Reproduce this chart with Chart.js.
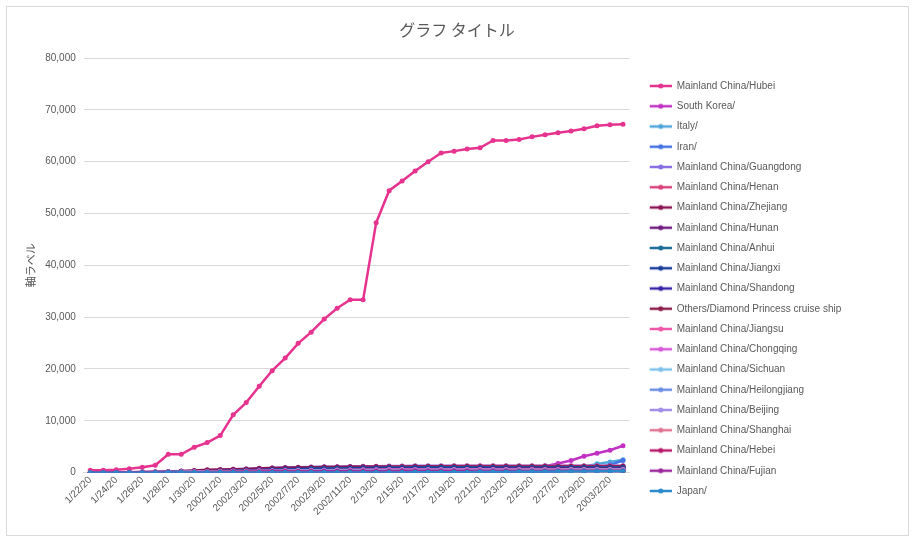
<!DOCTYPE html>
<html lang="ja">
<head>
<meta charset="utf-8">
<title>グラフ タイトル</title>
<script src="https://cdn.jsdelivr.net/npm/chart.js@4.4.1/dist/chart.umd.min.js"></script>
<style>
  html, body { margin: 0; padding: 0; background: #fff; }
  .wrap { position: relative; width: 914px; height: 541px; }
  .chart-title {
    position: absolute; left: 0; top: 18px; width: 914px;
    text-align: center; font: 16px/22px "Noto Sans CJK JP", sans-serif; color: #595959;
  }
  canvas { position: absolute; left: 0; top: 0; }
</style>
</head>
<body>
<div class="wrap">
  <canvas class="js-chart" width="914" height="541"></canvas>
  <div class="chart-title">グラフ タイトル</div>
</div>
<script>
// 日付ラベル（Excelの変換そのまま）
const dates = [
  '1/22/20', '1/23/20', '1/24/20', '1/25/20', '1/26/20', '1/27/20', '1/28/20', '1/29/20', '1/30/20', '1/31/20',
  '2002/1/20', '2002/2/20', '2002/3/20', '2002/4/20', '2002/5/20', '2002/6/20', '2002/7/20', '2002/8/20',
  '2002/9/20', '2002/10/20', '2002/11/20', '2002/12/20',
  '2/13/20', '2/14/20', '2/15/20', '2/16/20', '2/17/20', '2/18/20', '2/19/20', '2/20/20', '2/21/20',
  '2/22/20', '2/23/20', '2/24/20', '2/25/20', '2/26/20', '2/27/20', '2/28/20', '2/29/20',
  '2003/1/20', '2003/2/20', '2003/3/20'
];

const hubei = [444, 444, 549, 761, 1058, 1423, 3554, 3554, 4903, 5806, 7153, 11177, 13522, 16678, 19665, 22112, 24953, 27100, 29631, 31728, 33366, 33366, 48206, 54406, 56249, 58182, 59989, 61682, 62031, 62442, 62662, 64084, 64084, 64287, 64786, 65187, 65596, 65914, 66337, 66907, 67103, 67217];
const southKorea = [1, 1, 2, 2, 3, 4, 4, 4, 4, 11, 12, 15, 15, 16, 19, 23, 24, 24, 25, 27, 28, 28, 28, 28, 28, 29, 30, 31, 31, 104, 204, 433, 602, 833, 977, 1261, 1766, 2337, 3150, 3736, 4335, 5186];
const italy = [0, 0, 0, 0, 0, 0, 0, 0, 0, 2, 2, 2, 2, 2, 2, 2, 3, 3, 3, 3, 3, 3, 3, 3, 3, 3, 3, 3, 3, 3, 20, 62, 155, 229, 322, 453, 655, 888, 1128, 1694, 2036, 2502];
const iran = [0, 0, 0, 0, 0, 0, 0, 0, 0, 0, 0, 0, 0, 0, 0, 0, 0, 0, 0, 0, 0, 0, 0, 0, 0, 0, 0, 0, 2, 5, 18, 28, 43, 61, 95, 139, 245, 388, 593, 978, 1501, 2336];
const guangdong = [26, 32, 53, 78, 111, 151, 207, 277, 354, 436, 535, 632, 725, 813, 895, 970, 1034, 1095, 1131, 1159, 1177, 1219, 1241, 1261, 1294, 1316, 1322, 1328, 1331, 1332, 1333, 1339, 1342, 1345, 1347, 1347, 1347, 1348, 1349, 1349, 1350, 1350];
const henan = [5, 5, 9, 32, 83, 128, 168, 206, 278, 352, 422, 493, 566, 675, 764, 851, 914, 981, 1033, 1073, 1105, 1135, 1169, 1184, 1212, 1231, 1246, 1257, 1262, 1265, 1267, 1270, 1271, 1271, 1271, 1271, 1272, 1272, 1272, 1272, 1272, 1272];
const zhejiang = [10, 27, 43, 62, 104, 128, 173, 296, 428, 538, 599, 661, 724, 829, 895, 954, 1006, 1048, 1075, 1092, 1117, 1131, 1145, 1155, 1162, 1167, 1171, 1172, 1174, 1175, 1203, 1205, 1205, 1205, 1205, 1205, 1205, 1205, 1205, 1205, 1206, 1213];
const hunan = [4, 9, 24, 43, 69, 100, 143, 221, 277, 332, 389, 463, 521, 593, 661, 711, 772, 803, 838, 879, 912, 946, 968, 988, 1001, 1004, 1006, 1007, 1008, 1010, 1011, 1013, 1016, 1016, 1016, 1016, 1017, 1017, 1018, 1018, 1018, 1018];
const anhui = [1, 9, 15, 39, 60, 70, 106, 152, 200, 237, 297, 340, 408, 480, 530, 591, 665, 733, 779, 830, 860, 889, 910, 934, 950, 962, 973, 982, 986, 987, 988, 989, 989, 989, 989, 989, 989, 989, 990, 990, 990, 990];
const jiangxi = [2, 7, 18, 18, 36, 72, 109, 109, 162, 240, 286, 333, 391, 476, 548, 600, 661, 698, 740, 771, 804, 844, 872, 900, 913, 925, 930, 933, 934, 934, 934, 934, 934, 934, 934, 934, 934, 934, 935, 935, 935, 935];
const shandong = [2, 6, 15, 27, 46, 75, 95, 130, 158, 184, 206, 230, 259, 275, 307, 347, 386, 416, 444, 466, 487, 497, 509, 523, 532, 537, 541, 543, 544, 546, 748, 750, 754, 755, 756, 756, 756, 756, 756, 758, 758, 758];
const diamondPrincess = [0, 0, 0, 0, 0, 0, 0, 0, 0, 0, 0, 0, 0, 0, 0, 0, 61, 61, 64, 135, 135, 175, 175, 218, 285, 355, 454, 542, 621, 634, 634, 634, 691, 691, 691, 705, 705, 705, 705, 705, 705, 706];
const jiangsu = [1, 5, 9, 18, 33, 47, 70, 99, 129, 168, 202, 236, 271, 308, 341, 373, 408, 439, 468, 492, 515, 543, 570, 593, 604, 617, 626, 629, 631, 631, 631, 631, 631, 631, 631, 631, 631, 631, 631, 631, 631, 631];
const chongqing = [6, 9, 27, 57, 75, 110, 132, 147, 182, 211, 247, 300, 337, 366, 389, 411, 426, 428, 468, 486, 505, 518, 529, 537, 544, 551, 553, 555, 560, 567, 572, 573, 575, 576, 576, 576, 576, 576, 576, 576, 576, 576];
const sichuan = [5, 8, 15, 28, 44, 69, 90, 108, 142, 177, 207, 231, 254, 282, 301, 321, 344, 364, 386, 405, 417, 436, 451, 463, 470, 481, 495, 508, 514, 520, 525, 526, 526, 527, 529, 531, 534, 538, 538, 538, 538, 538];
const heilongjiang = [0, 2, 4, 9, 15, 21, 33, 38, 44, 59, 80, 95, 121, 155, 190, 227, 277, 295, 307, 331, 360, 378, 395, 419, 425, 445, 457, 464, 470, 476, 479, 479, 480, 480, 480, 480, 480, 480, 480, 480, 480, 480];
const beijing = [14, 22, 36, 41, 68, 80, 91, 111, 114, 139, 168, 191, 212, 228, 253, 274, 297, 315, 326, 337, 342, 352, 366, 372, 375, 380, 381, 387, 393, 395, 396, 399, 399, 399, 400, 400, 410, 410, 411, 413, 414, 414];
const shanghai = [9, 16, 20, 33, 40, 53, 66, 96, 112, 135, 169, 182, 203, 219, 243, 257, 277, 286, 293, 299, 303, 311, 315, 318, 326, 328, 331, 333, 333, 333, 334, 334, 335, 335, 335, 336, 337, 337, 337, 337, 337, 338];
const hebei = [1, 1, 8, 13, 18, 33, 48, 65, 82, 96, 104, 113, 126, 135, 157, 172, 195, 206, 218, 239, 251, 265, 283, 291, 300, 301, 306, 306, 307, 308, 309, 311, 311, 311, 312, 317, 318, 318, 318, 318, 318, 318];
const fujian = [1, 5, 10, 18, 35, 59, 80, 84, 101, 120, 144, 159, 179, 194, 205, 215, 224, 239, 250, 261, 267, 272, 279, 281, 285, 287, 290, 292, 293, 293, 293, 293, 293, 293, 294, 294, 296, 296, 296, 296, 296, 296];
const japan = [2, 1, 2, 2, 4, 4, 7, 7, 11, 15, 20, 20, 20, 22, 22, 45, 25, 25, 26, 26, 26, 28, 28, 29, 43, 59, 66, 74, 84, 94, 105, 122, 147, 159, 170, 189, 214, 228, 241, 256, 274, 293];

const seriesNames = [
  'Mainland China/Hubei', 'South Korea/', 'Italy/', 'Iran/', 'Mainland China/Guangdong',
  'Mainland China/Henan', 'Mainland China/Zhejiang', 'Mainland China/Hunan', 'Mainland China/Anhui',
  'Mainland China/Jiangxi', 'Mainland China/Shandong', 'Others/Diamond Princess cruise ship',
  'Mainland China/Jiangsu', 'Mainland China/Chongqing', 'Mainland China/Sichuan',
  'Mainland China/Heilongjiang', 'Mainland China/Beijing', 'Mainland China/Shanghai',
  'Mainland China/Hebei', 'Mainland China/Fujian', 'Japan/'
];
const seriesValues = [
  hubei, southKorea, italy, iran, guangdong, henan, zhejiang, hunan, anhui, jiangxi, shandong,
  diamondPrincess, jiangsu, chongqing, sichuan, heilongjiang, beijing, shanghai, hebei, fujian, japan
];
const seriesColors = [
  '#e6338f', '#c131c4', '#4fa6dc', '#4474e2', '#8a70e2', '#d8417a', '#8a1554', '#701e80',
  '#1f6e99', '#1b3f9b', '#3c24a8', '#8c1f4b', '#ee58a8', '#d75ad8', '#7dc0e8', '#6c8fe6',
  '#a38ee8', '#e07596', '#b8186b', '#9c2a9d', '#2a8acb'
];

// 凡例アイコン（線＋マーカー、左に余白）
function legendIcon(color) {
  const c = document.createElement('canvas');
  c.width = 32;
  c.height = 10;
  const ctx = c.getContext('2d');
  ctx.strokeStyle = color;
  ctx.lineWidth = 2.5;
  ctx.beginPath();
  ctx.moveTo(10, 5);
  ctx.lineTo(32, 5);
  ctx.stroke();
  ctx.fillStyle = color;
  ctx.beginPath();
  ctx.arc(21, 5, 2.5, 0, Math.PI * 2);
  ctx.fill();
  return c;
}

// 枠線
const chartBorder = {
  id: 'chartBorder',
  beforeDraw(chart) {
    const ctx = chart.ctx;
    ctx.save();
    ctx.fillStyle = '#fff';
    ctx.fillRect(0, 0, chart.width, chart.height);
    ctx.strokeStyle = '#d9d9d9';
    ctx.lineWidth = 1;
    ctx.strokeRect(6.5, 6.5, 902, 529);
    ctx.restore();
  }
};

// 凡例の幅を固定（レイアウトの上限で文字が切れるため）
const legendWidth = {
  id: 'legendWidth',
  beforeUpdate(chart) {
    const legend = chart.legend;
    if (!legend || legend._fixedWidth) return;
    const fit = legend.fit;
    legend.fit = function () {
      fit.call(this);
      this.width = 284.5;
    };
    legend._fixedWidth = true;
  }
};

window.addEventListener('DOMContentLoaded', () => {
  const datasets = seriesNames.map((name, i) => ({
    label: name,
    data: seriesValues[i],
    borderColor: seriesColors[i],
    backgroundColor: seriesColors[i],
    borderWidth: 2.5,
    pointRadius: 2.5,
    pointBorderWidth: 0,
    pointHoverRadius: 3,
    tension: 0,
    order: -i
  }));

  new Chart(document.querySelector('.js-chart'), {
    type: 'line',
    data: { labels: dates, datasets: datasets },
    options: {
      responsive: false,
      animation: false,
      layout: { padding: { left: 17, right: 0, top: 58, bottom: 22 } },
      plugins: {
        title: { display: false },
        tooltip: { enabled: false },
        legend: {
          position: 'right',
          labels: {
            usePointStyle: true,
            pointStyleWidth: 32,
            padding: 10.25,
            color: '#595959',
            font: { family: 'Liberation Sans', size: 10 },
            generateLabels: (chart) => chart.data.datasets.map((ds, i) => ({
              text: ds.label,
              fillStyle: ds.borderColor,
              strokeStyle: ds.borderColor,
              lineWidth: 0,
              pointStyle: legendIcon(ds.borderColor),
              hidden: false,
              datasetIndex: i,
              fontColor: '#595959'
            }))
          }
        }
      },
      scales: {
        x: {
          offset: true,
          grid: { display: false, drawTicks: false },
          border: { color: '#d9d9d9' },
          ticks: {
            autoSkip: false,
            maxRotation: 45,
            minRotation: 45,
            padding: 1.5,
            color: '#595959',
            font: { family: 'Liberation Sans', size: 10 },
            callback: (value, index) => (index % 2 === 0 ? dates[index] : '')
          }
        },
        y: {
          min: 0,
          max: 80000,
          grid: { color: '#d9d9d9', drawTicks: false },
          border: { display: false },
          ticks: {
            stepSize: 10000,
            padding: 8,
            color: '#595959',
            font: { family: 'Liberation Sans', size: 10 },
            callback: (value) => value.toLocaleString('en-US')
          },
          title: {
            display: true,
            text: '軸ラベル',
            color: '#595959',
            font: { family: 'Noto Sans CJK JP', size: 11 },
            padding: { top: 7, bottom: 0 }
          }
        }
      }
    },
    plugins: [chartBorder, legendWidth]
  });
});
</script>
</body>
</html>
